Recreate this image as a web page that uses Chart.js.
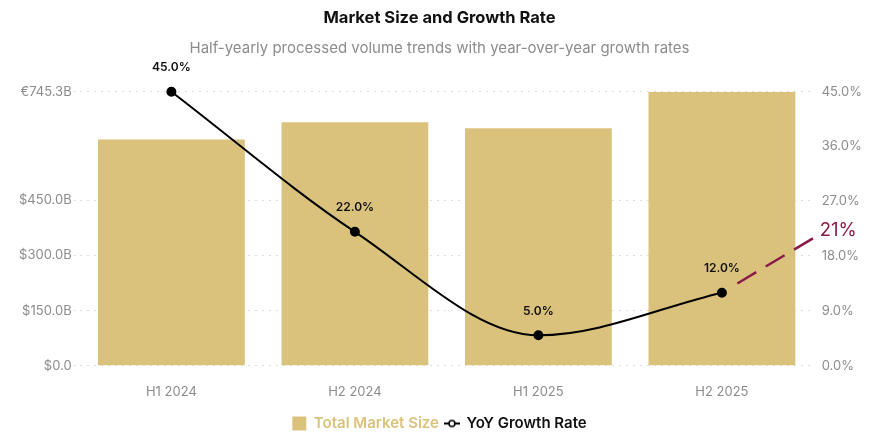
<!DOCTYPE html>
<html>
<head>
<meta charset="utf-8">
<script src="https://cdn.jsdelivr.net/npm/chart.js@4"></script>
<style>
html,body{margin:0;padding:0;background:#fff;}
#wrap{width:894px;height:441px;position:relative;}
</style>
</head>
<body>
<div id="wrap"><canvas id="c"></canvas></div>
<script>
const categories = ['H1 2024', 'H2 2024', 'H1 2025', 'H2 2025'];
const marketSize = [615.5, 662.7, 646.0, 745.3];
const growthRate = [45.0, 22.0, 5.0, 12.0];
const projectedRate = 21;
const projectedLabel = '21%';
const leftTickValues = [0, 150, 300, 450, 745.3];
const leftTickLabels = ['$0.0', '$150.0B', '$300.0B', '$450.0B', '€745.3B'];
const rightTickValues = [0, 9, 18, 27, 36, 45];
const rightTickLabels = ['0.0%', '9.0%', '18.0%', '27.0%', '36.0%', '45.0%'];

const FONT = 'Inter, "Noto Sans", sans-serif';
const BAR = '#dbc27c';
const PROJ = '#8b1a4b';

// legend icon for the line series
const icon = document.createElement('canvas');
icon.width = 16; icon.height = 10;
(function(){
  const g = icon.getContext('2d');
  g.strokeStyle = '#000'; g.lineWidth = 2;
  g.beginPath(); g.moveTo(0,5); g.lineTo(16,5); g.stroke();
  g.fillStyle = '#fff';
  g.beginPath(); g.arc(8,5,3,0,Math.PI*2); g.fill(); g.lineWidth=1.6; g.stroke();
})();

const extras = {
  id: 'extras',
  afterDatasetsDraw(chart) {
    const ctx = chart.ctx;
    const meta = chart.getDatasetMeta(1);
    const yR = chart.scales.yR;
    const area = chart.chartArea;
    // data labels
    ctx.save();
    ctx.font = '600 12px ' + FONT;
    ctx.fillStyle = '#111';
    ctx.textAlign = 'center';
    ctx.textBaseline = 'middle';
    meta.data.forEach((pt, i) => {
      ctx.fillText(growthRate[i].toFixed(1) + '%', pt.x, pt.y - 24);
    });
    // projection
    const last = meta.data[meta.data.length - 1];
    const x0 = last.x, y0 = last.y;
    const x1 = area.right, y1 = yR.getPixelForValue(projectedRate);
    const dx = x1 - x0, dy = y1 - y0, len = Math.hypot(dx, dy);
    const sx = x0 + dx / len * 18, sy = y0 + dy / len * 18;
    ctx.strokeStyle = PROJ;
    ctx.lineWidth = 2.5;
    ctx.setLineDash([22, 11]);
    ctx.beginPath(); ctx.moveTo(sx, sy); ctx.lineTo(x1, y1); ctx.stroke();
    ctx.setLineDash([]);
    ctx.fillStyle = PROJ;
    ctx.font = '18.5px ' + FONT;
    ctx.textAlign = 'left';
    ctx.textBaseline = 'middle';
    ctx.fillText(projectedLabel, x1 + 6, y1 - 7);
    ctx.restore();
  }
};

new Chart(document.getElementById('c'), {
  data: {
    labels: categories,
    datasets: [
      {
        type: 'bar',
        label: 'Total Market Size',
        data: marketSize,
        backgroundColor: BAR,
        yAxisID: 'yL',
        categoryPercentage: 0.8,
        barPercentage: 1.0,
        order: 2
      },
      {
        type: 'line',
        label: 'YoY Growth Rate',
        data: growthRate,
        borderColor: '#000',
        backgroundColor: '#000',
        borderWidth: 2,
        pointRadius: 4,
        pointBackgroundColor: '#000',
        cubicInterpolationMode: 'monotone',
        yAxisID: 'yR',
        clip: false,
        order: 1
      }
    ]
  },
  options: {
    responsive: true,
    maintainAspectRatio: false,
    animation: false,
    layout: { padding: { left: 17, right: 32, top: 0, bottom: 0 } },
    plugins: {
      title: {
        display: true,
        text: 'Market Size and Growth Rate',
        color: '#111',
        font: { family: FONT, size: 16.5, weight: '700' },
        padding: { top: 8, bottom: 12 }
      },
      subtitle: {
        display: true,
        text: 'Half-yearly processed volume trends with year-over-year growth rates',
        color: '#8c8c8c',
        font: { family: FONT, size: 15 },
        padding: { bottom: 34 }
      },
      legend: {
        position: 'bottom',
        labels: {
          font: { family: FONT, size: 15, weight: '600' },
          boxWidth: 14,
          boxHeight: 14,
          padding: 6,
          generateLabels(chart) {
            return [
              { text: 'Total Market Size', fillStyle: BAR, strokeStyle: BAR, lineWidth: 0,
                fontColor: BAR, datasetIndex: 0, pointStyle: 'rect', hidden: false },
              { text: 'YoY Growth Rate', fillStyle: '#000', strokeStyle: '#000', lineWidth: 0,
                fontColor: '#111', datasetIndex: 1, pointStyle: icon, hidden: false }
            ];
          },
          usePointStyle: true
        }
      },
      tooltip: { enabled: false }
    },
    scales: {
      x: {
        grid: { display: false },
        border: { display: false },
        ticks: { color: '#8c8c8c', font: { family: FONT, size: 13, lineHeight: 1.25 }, padding: 10 }
      },
      yL: {
        position: 'left',
        min: 0,
        max: 745.3,
        afterBuildTicks(scale) { scale.ticks = leftTickValues.map(v => ({ value: v })); },
        ticks: {
          color: '#8c8c8c',
          font: { family: FONT, size: 13 },
          padding: 2,
          callback(v) { const i = leftTickValues.indexOf(v); return i >= 0 ? leftTickLabels[i] : ''; }
        },
        border: { display: false, dash: [2, 5] },
        grid: { color: '#dedede', lineWidth: 1, tickLength: 6, tickBorderDash: [2, 5] }
      },
      yR: {
        position: 'right',
        min: 0,
        max: 45,
        afterBuildTicks(scale) { scale.ticks = rightTickValues.map(v => ({ value: v })); },
        ticks: {
          color: '#8c8c8c',
          font: { family: FONT, size: 13 },
          padding: 0,
          callback(v) { const i = rightTickValues.indexOf(v); return i >= 0 ? rightTickLabels[i] : ''; }
        },
        border: { display: false },
        grid: { display: false }
      }
    }
  },
  plugins: [extras]
});
</script>
</body>
</html>
